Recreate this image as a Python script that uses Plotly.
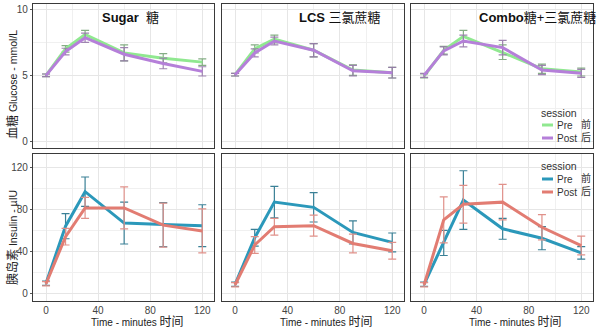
import plotly.graph_objects as go

times = [0, 15, 30, 60, 90, 120]
panels = ["Sugar", "LCS", "Combo"]
panel_titles = ["<b>Sugar</b>  糖", "<b>LCS</b> 三氯蔗糖", "<b>Combo</b>糖+三氯蔗糖"]
session_labels = ["Pre", "Post"]
session_cn = ["前", "后"]

# Glucose (mmol/L)
glu_pre = {
    "Sugar": [5.0, 7.0, 8.1, 6.7, 6.3, 6.0],
    "LCS": [5.05, 7.0, 7.75, 6.9, 5.4, 5.2],
    "Combo": [4.95, 6.9, 7.95, 6.75, 5.5, 5.25],
}
glu_pre_err = {
    "Sugar": [0.1, 0.25, 0.3, 0.6, 0.35, 0.25],
    "LCS": [0.1, 0.3, 0.3, 0.5, 0.4, 0.4],
    "Combo": [0.15, 0.3, 0.45, 0.55, 0.35, 0.3],
}
glu_post = {
    "Sugar": [5.0, 6.8, 7.85, 6.6, 5.9, 5.3],
    "LCS": [5.05, 6.7, 7.6, 6.9, 5.35, 5.2],
    "Combo": [5.0, 6.85, 7.6, 7.1, 5.4, 5.15],
}
glu_post_err = {
    "Sugar": [0.1, 0.25, 0.35, 0.5, 0.4, 0.35],
    "LCS": [0.1, 0.3, 0.3, 0.5, 0.4, 0.4],
    "Combo": [0.15, 0.3, 0.45, 0.55, 0.35, 0.3],
}

# Insulin (µIU)
ins_pre = {
    "Sugar": [9.5, 64, 97, 67, 65.5, 64.5],
    "LCS": [8.5, 53, 87, 82, 58, 48.5],
    "Combo": [8.5, 48, 89, 61.5, 52.5, 38.5],
}
ins_pre_err = {
    "Sugar": [2, 12, 14, 20, 21, 20],
    "LCS": [2, 8, 15, 14, 11, 9],
    "Combo": [2, 12, 28, 10, 11, 6],
}
ins_post = {
    "Sugar": [9, 54, 81.5, 81.5, 65, 59.5],
    "LCS": [8, 46, 63.5, 64.5, 47.5, 40.5],
    "Combo": [8, 70, 85, 87, 63, 45.5],
}
ins_post_err = {
    "Sugar": [2, 8, 10, 20, 21, 21],
    "LCS": [2, 8, 8, 10, 9, 8],
    "Combo": [2, 22, 18, 17, 12, 9],
}

FONT = "Liberation Sans, Arial, Noto Sans CJK SC, sans-serif"
W, H = 600, 329
col_px = [(33, 214), (222, 404), (411, 593)]
row_px = [(4, 148), (154, 301)]

def xd(a, b):
    return [a / W, b / W]

def yd(a, b):
    return [1 - b / H, 1 - a / H]

def px(x):
    return x / W

def py(y):
    return 1 - y / H

colors = {
    "glu_pre": "#90e890", "glu_post": "#b57fd9",
    "ins_pre": "#2b98ba", "ins_post": "#e27c72",
}
err_colors = {
    "glu_pre": "rgba(120,165,120,0.9)", "glu_post": "rgba(150,120,170,0.9)",
    "ins_pre": "#3a8096", "ins_post": "#e0918a",
}

xtitle = "Time - minutes <span style='font-size:12px'>时间</span>"
ytitles = [
    "<span style='font-size:12px'>血糖</span> Glucose - mmol/L",
    "<span style='font-size:12px'>胰岛素</span> Insulin - µIU",
]

fig = go.Figure()
layout = {}
for r in range(2):
    for c in range(3):
        idx = r * 3 + c + 1
        xname = "xaxis" if idx == 1 else f"xaxis{idx}"
        yname = "yaxis" if idx == 1 else f"yaxis{idx}"
        xref = "x" if idx == 1 else f"x{idx}"
        yref = "y" if idx == 1 else f"y{idx}"
        layout[xname] = dict(
            domain=xd(*col_px[c]), anchor=yref, range=[-10, 129],
            tickvals=[0, 40, 80, 120], showticklabels=(r == 1),
            showgrid=True, gridcolor="#e6e6e6", gridwidth=1,
            minor=dict(tickvals=[20, 60, 100], showgrid=True, gridcolor="#f0f0f0", gridwidth=1),
            showline=True, mirror=True, linecolor="#3a3a3a", linewidth=1.3,
            zeroline=False, ticks="", tickfont=dict(size=10, color="#444", family=FONT),
        )
        if r == 0:
            layout[yname] = dict(
                domain=yd(*row_px[0]), anchor=xref, range=[-0.5, 10.4],
                tickvals=[0, 5, 10], minor=dict(tickvals=[2.5, 7.5], showgrid=True, gridcolor="#f0f0f0"),
            )
        else:
            layout[yname] = dict(
                domain=yd(*row_px[1]), anchor=xref, range=[-7.5, 133],
                tickvals=[0, 40, 80, 120], minor=dict(tickvals=[20, 60, 100], showgrid=True, gridcolor="#f0f0f0"),
            )
        layout[yname].update(
            showticklabels=(c == 0), showgrid=True, gridcolor="#e6e6e6",
            showline=True, mirror=True, linecolor="#3a3a3a", linewidth=1.3,
            zeroline=False, ticks="outside" if c == 0 else "", ticklen=2, tickcolor="#555",
            tickfont=dict(size=10, color="#444", family=FONT),
            automargin=False,
        )

        name = panels[c]
        if r == 0:
            series = [("glu_pre", glu_pre[name], glu_pre_err[name], 0),
                      ("glu_post", glu_post[name], glu_post_err[name], 1)]
        else:
            series = [("ins_pre", ins_pre[name], ins_pre_err[name], 0),
                      ("ins_post", ins_post[name], ins_post_err[name], 1)]
        for key, vals, errs, si in series:
            fig.add_trace(go.Scatter(
                x=times, y=vals, mode="lines", name=f"{session_labels[si]} {session_cn[si]}",
                line=dict(color=colors[key], width=3),
                error_y=dict(type="data", array=errs, visible=True, color=err_colors[key],
                             thickness=1.2, width=4),
                xaxis=xref, yaxis=yref, showlegend=False,
            ))

annotations = []
shapes = []
title_x = [130, 340, 537]
for c in range(3):
    annotations.append(dict(
        text=panel_titles[c], x=px(title_x[c]), y=py(18), xref="paper", yref="paper",
        showarrow=False, xanchor="center", yanchor="middle",
        font=dict(size=13, color="#111", family=FONT),
    ))
    # x axis titles (one per column, under the bottom row)
    annotations.append(dict(
        text=xtitle, x=px(col_px[c][0] + 57), y=py(322), xref="paper", yref="paper",
        showarrow=False, xanchor="left", yanchor="middle", borderpad=0,
        font=dict(size=10, color="#222", family=FONT),
    ))

# y axis titles
for r, cy in enumerate([85, 238]):
    annotations.append(dict(
        text=ytitles[r], x=px(12), y=py(cy), xref="paper", yref="paper",
        showarrow=False, xanchor="center", yanchor="middle", textangle=-90,
        font=dict(size=10.5, color="#222", family=FONT),
    ))

# Legend boxes ("session") for each row, drawn in the last column
legend_rows = [
    (113, [125, 138], ["glu_pre", "glu_post"]),
    (166, [179, 192], ["ins_pre", "ins_post"]),
]
for ty, item_y, keys in legend_rows:
    annotations.append(dict(text="session", x=px(540), y=py(ty), xref="paper", yref="paper",
                            showarrow=False, xanchor="left", yanchor="middle", borderpad=0,
                            font=dict(size=10.5, color="#333", family=FONT)))
    for iy, key in zip(item_y, keys):
        shapes.append(dict(type="line", xref="paper", yref="paper",
                           x0=px(542), x1=px(553), y0=py(iy), y1=py(iy),
                           line=dict(color=colors[key], width=3)))
    mid = (item_y[0] + item_y[1]) / 2
    annotations.append(dict(text="<br>".join(session_labels), x=px(556), y=py(mid),
                            xref="paper", yref="paper", align="left",
                            showarrow=False, xanchor="left", yanchor="middle", borderpad=0,
                            font=dict(size=10, color="#333", family=FONT)))
    annotations.append(dict(text="<br>".join(session_cn), x=px(592), y=py(mid - 1),
                            xref="paper", yref="paper", align="right",
                            showarrow=False, xanchor="right", yanchor="middle", borderpad=0,
                            font=dict(size=10, color="#333", family=FONT)))

fig.update_layout(
    width=W, height=H, margin=dict(l=0, r=0, t=0, b=0),
    paper_bgcolor="white", plot_bgcolor="white",
    font=dict(family=FONT, color="#222"),
    annotations=annotations, shapes=shapes, showlegend=False,
    **layout,
)

fig.write_html("out.html")
